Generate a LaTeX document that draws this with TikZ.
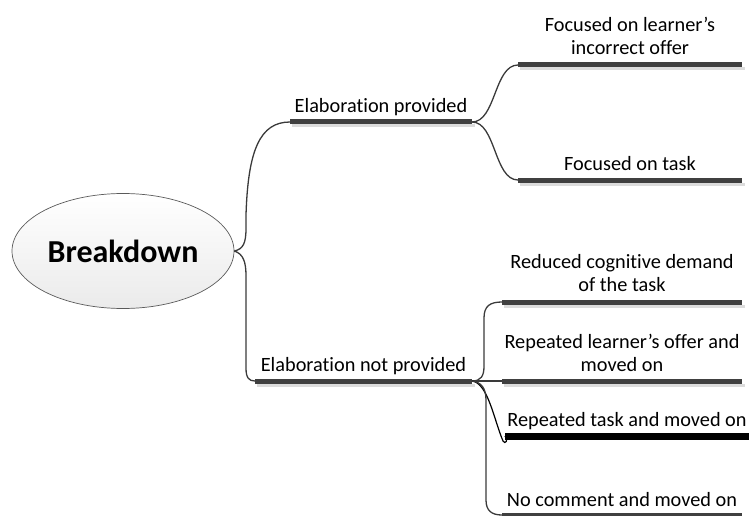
\documentclass[tikz,border=0pt]{standalone}
\usepackage{fontspec}
\setmainfont{Carlito}[Ligatures={NoCommon}]
\usetikzlibrary{shapes.geometric,calc}
\definecolor{bardark}{HTML}{404040}
\definecolor{barshade}{HTML}{DCDCDC}
\definecolor{linkgray}{HTML}{3A3A3A}
\definecolor{rimgray}{HTML}{5A5A5A}
\begin{document}
\begin{tikzpicture}[x=1pt,y=-1pt,
  bar/.style={draw=bardark,line width=5pt},
  barshadow/.style={draw=barshade,line width=3pt},
  heavybar/.style={draw=black,line width=7pt},
  link/.style={draw=linkgray,line width=1.3pt},
  lbl/.style={anchor=south,inner sep=0pt,text depth=0pt,align=center,
    font=\fontsize{20.3}{23}\selectfont},
  rootnode/.style={ellipse,draw=rimgray,line width=0.7pt,
    top color=white,bottom color=black!8,
    minimum width=222pt,minimum height=115pt,inner sep=0pt,
    font=\fontsize{32}{36}\selectfont\bfseries}]
\useasboundingbox (0,0) rectangle (749,516);

% central topic
\node[rootnode] (root) at (123,251) {Breakdown};

% bar end points
\coordinate (ep-l) at (290,122);  \coordinate (ep-r) at (472,122);
\coordinate (enp-l) at (255,381); \coordinate (enp-r) at (472,381);
\coordinate (f1-l) at (518,65);   \coordinate (f1-r) at (742,65);
\coordinate (f2-l) at (518,180);  \coordinate (f2-r) at (742,180);
\coordinate (r1-l) at (502,302);  \coordinate (r1-r) at (742,302);
\coordinate (r2-l) at (502,381);  \coordinate (r2-r) at (742,381);
\coordinate (r3-l) at (505,436);  \coordinate (r3-r) at (749,436);
\coordinate (r4-l) at (502,515);  \coordinate (r4-r) at (742,515);

% shadows under the bars
\foreach \b in {ep,enp,f1,f2,r1,r2,r4}
  \draw[barshadow] ([shift={(2,4)}]\b-l) -- ([shift={(3,4)}]\b-r);

% bars
\foreach \b in {ep,enp,f1,f2,r1,r2,r4}
  \draw[bar] (\b-l) -- (\b-r);
\draw[heavybar] (r3-l) -- (r3-r);

% connectors from the central topic
\draw[link] (root.east) .. controls ++(9,-2) and (246,243) .. (246,228)
  -- (246,215) .. controls (248,150) and (260,122) .. (ep-l);
\draw[link] (root.east) .. controls ++(9,3) and (246,262) .. (246,276)
  -- (246,368) .. controls (246,378) and (249,381) .. (enp-l);

% connectors of "Elaboration provided"
\draw[link] (ep-r) .. controls (496,122) and (494,65) .. (f1-l);
\draw[link] (ep-r) .. controls (496,122) and (494,180) .. (f2-l);

% connectors of "Elaboration not provided"
\draw[link] (enp-r) .. controls (481,381) and (484,376) .. (484,366)
  -- (484,318) .. controls (484,306) and (490,302) .. (r1-l);
\draw[link] (enp-r) -- (r2-l);
\draw[draw=black,line width=1.2pt] (enp-r) .. controls (488,383) and (494,420) .. (503,441)
  .. controls (505,445) and (509,440) .. (r3-l);
\draw[link] (enp-r) .. controls (481,382) and (486,388) .. (486,400)
  -- (486,500) .. controls (486,511) and (492,515) .. (r4-l);

% labels
\node[lbl] (t-ep)  at ($(ep-l)!0.5!(ep-r)+(0,-9)$) {Elaboration provided};
\node[lbl] (t-enp) at ($(enp-l)!0.5!(enp-r)+(0,-9)$) {Elaboration not provided};
\node[lbl] (t-f1)  at ($(f1-l)!0.5!(f1-r)+(0,-10)$) {Focused on learner’s\\incorrect offer};
\node[lbl] (t-f2)  at ($(f2-l)!0.5!(f2-r)+(0,-9)$) {Focused on task};
\node[lbl] (t-r1)  at ($(r1-l)!0.5!(r1-r)+(0,-10)$) {Reduced cognitive demand\\of the task};
\node[lbl] (t-r2)  at ($(r2-l)!0.5!(r2-r)+(0,-9)$) {Repeated learner’s offer and\\moved on};
\node[lbl] (t-r3)  at ($(r3-l)!0.5!(r3-r)+(0,-9)$) {Repeated task and moved on};
\node[lbl] (t-r4)  at ($(r4-l)!0.5!(r4-r)+(0,-8)$) {No comment and moved on};
\end{tikzpicture}
\end{document}
